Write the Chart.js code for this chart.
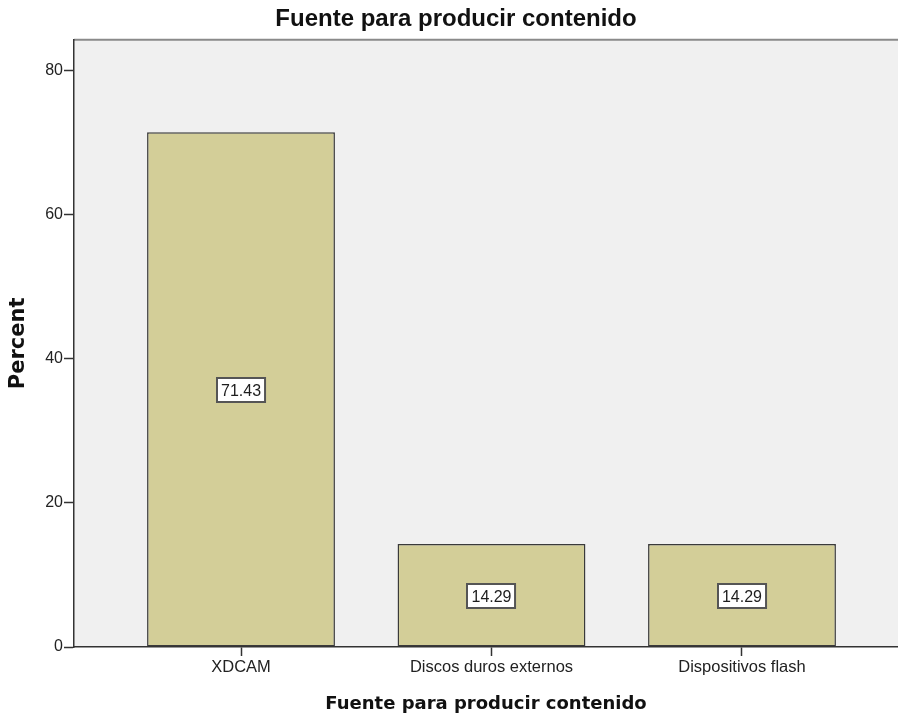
<!DOCTYPE html>
<html>
<head>
<meta charset="utf-8">
<script src="https://cdn.jsdelivr.net/npm/chart.js@4/dist/chart.umd.min.js"></script>
<style>
  html, body { margin: 0; padding: 0; background: #ffffff; overflow: hidden; }
  #wrap { width: 898px; height: 717px; }
</style>
</head>
<body>
<div id="wrap"><canvas id="c" width="898" height="717"></canvas></div>
<script>
// ---- data ----
const categories = ["XDCAM", "Discos duros externos", "Dispositivos flash"];
const percentValues = [71.43, 14.29, 14.29];
const valueLabels = ["71.43", "14.29", "14.29"];
const yTickValues = [0, 20, 40, 60, 80];
const chartTitle = "Fuente para producir contenido";
const xAxisTitle = "Fuente para producir contenido";
const yAxisTitle = "Percent";

const SANS = "'Liberation Sans', Arial, sans-serif";
const WIDE = "'DejaVu Sans', Verdana, sans-serif";

const plotBg = {
  id: 'plotBg',
  beforeDraw(chart) {
    const {ctx, chartArea: a} = chart;
    ctx.save();
    ctx.fillStyle = '#F0F0F0';
    ctx.fillRect(a.left, a.top, a.right - a.left, a.bottom - a.top);
    ctx.strokeStyle = '#8a8a8a';
    ctx.lineWidth = 2;
    ctx.beginPath();
    ctx.moveTo(a.left, a.top);
    ctx.lineTo(a.right, a.top);
    ctx.stroke();
    ctx.restore();
  }
};

const boxLabels = {
  id: 'boxLabels',
  afterDatasetsDraw(chart) {
    const {ctx} = chart;
    const meta = chart.getDatasetMeta(0);
    ctx.save();
    ctx.font = '16px ' + SANS;
    ctx.textAlign = 'center';
    ctx.textBaseline = 'middle';
    meta.data.forEach((bar, i) => {
      const p = bar.getProps(['x', 'y', 'base'], true);
      const cx = p.x;
      const cy = (p.y + p.base) / 2 + 1;
      const txt = valueLabels[i];
      const w = ctx.measureText(txt).width + 8;
      const h = 24;
      const x0 = Math.round(cx - w / 2), y0 = Math.round(cy - h / 2);
      ctx.fillStyle = '#ffffff';
      ctx.fillRect(x0, y0, w, h);
      ctx.strokeStyle = '#555555';
      ctx.lineWidth = 2;
      ctx.strokeRect(x0, y0, w, h);
      ctx.fillStyle = '#1e1e1e';
      ctx.fillText(txt, cx, cy + 1);
    });
    ctx.restore();
  }
};

new Chart(document.getElementById('c'), {
  type: 'bar',
  data: {
    datasets: [{
      data: percentValues.map((v, i) => ({x: i, y: v})),
      backgroundColor: '#D3CE98',
      borderColor: '#3a3a3a',
      borderWidth: 1.5,
      borderSkipped: false,
      barPercentage: 0.75,
      categoryPercentage: 1.0
    }]
  },
  options: {
    responsive: false,
    animation: false,
    devicePixelRatio: 1,
    layout: { padding: { left: 14, right: 0, top: 0, bottom: 0 } },
    plugins: {
      legend: { display: false },
      tooltip: { enabled: false },
      title: {
        display: true,
        text: chartTitle,
        color: '#111111',
        font: { family: SANS, size: 24, weight: 'bold', lineHeight: 1.2 },
        padding: { top: 5, bottom: 6 }
      }
    },
    scales: {
      x: {
        type: 'linear',
        offset: false,
        bounds: 'data',
        min: -0.6667,
        max: 2.6228,
        afterBuildTicks: s => { s.ticks = categories.map((_, i) => ({value: i})); },
        afterFit: s => { s.height = 70; },
        ticks: {
          callback: v => categories[v],
          font: { family: SANS, size: 16.5 },
          color: '#222222',
          padding: 2,
          maxRotation: 0,
          autoSkip: false
        },
        grid: {
          display: true,
          offset: false,
          drawOnChartArea: false,
          drawTicks: true,
          tickLength: 9,
          tickColor: '#333333',
          tickWidth: 1.5
        },
        border: { display: true, color: '#333333', width: 1.5 },
        title: {
          display: true,
          text: xAxisTitle,
          color: '#111111',
          font: { family: WIDE, size: 18, weight: 'bold', lineHeight: 1.2 },
          padding: { top: 0, bottom: 2 }
        }
      },
      y: {
        min: 0,
        max: 84.26,
        afterBuildTicks: s => { s.ticks = yTickValues.map(v => ({value: v})); },
        afterFit: s => { s.width = 60; },
        ticks: {
          font: { family: SANS, size: 16 },
          color: '#222222',
          padding: 1
        },
        grid: {
          display: true,
          drawOnChartArea: false,
          drawTicks: true,
          tickLength: 10,
          tickColor: '#333333',
          tickWidth: 1.5
        },
        border: { display: true, color: '#333333', width: 1.5 },
        title: {
          display: true,
          text: yAxisTitle,
          color: '#111111',
          font: { family: WIDE, size: 21, weight: 'bold', lineHeight: 1.2 },
          padding: { top: -8, bottom: 0 }
        }
      }
    }
  },
  plugins: [plotBg, boxLabels]
});
</script>
</body>
</html>
